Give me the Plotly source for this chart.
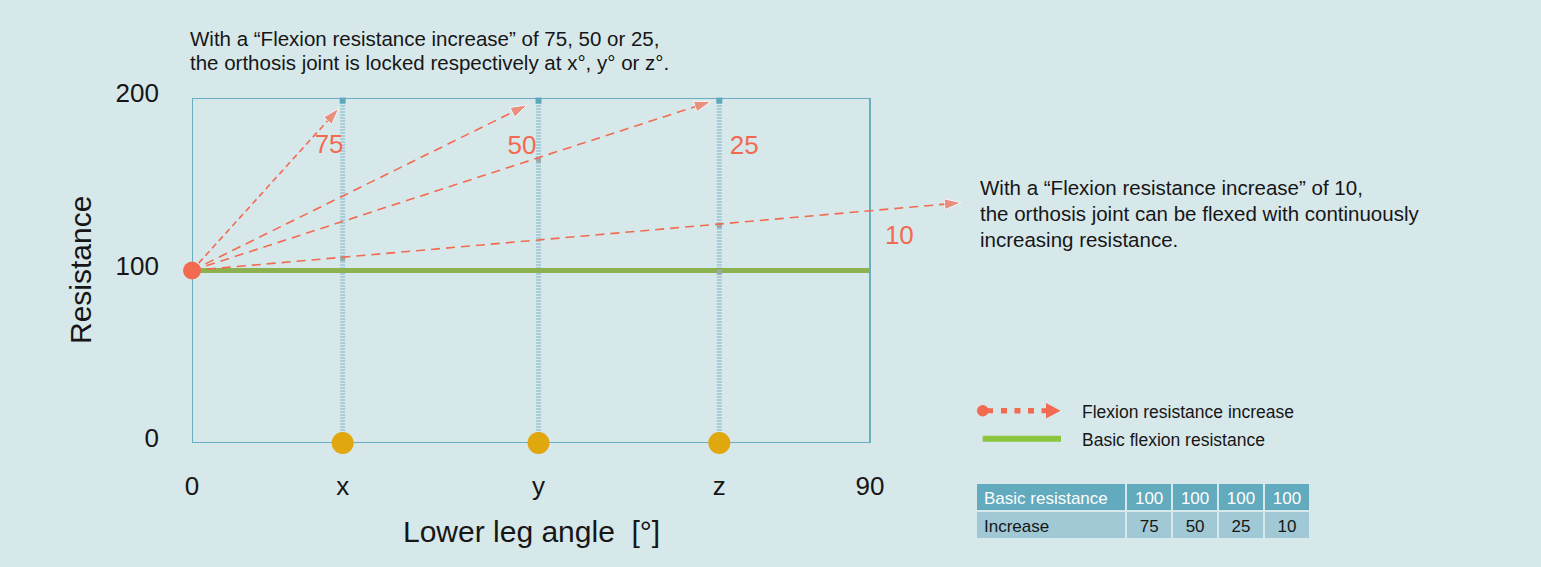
import plotly.graph_objects as go

# ---------------- data ----------------
angle_tick_vals = [0, 20, 46, 70, 90]
angle_tick_text = ["0", "x", "y", "z", "90"]
resistance_ticks = [0, 100, 200]
lock_angles = [20, 46, 70]          # x, y, z
basic_resistance = 100
increase_values = [75, 50, 25, 10]
arrow_tip_x = [19.5, 44.5, 68.9, 102.1]
arrow_tip_y = [194, 196, 198, 139.3]
label_x = [18.2, 43.8, 73.3, 93.9]
label_y = [171.6, 171.3, 171.1, 119.4]
cross_x = [20, 46, 70, 70]
cross_y = [107, 164, 126, 99]
table_header = ["Basic resistance", "100", "100", "100", "100"]
table_row = ["Increase", "75", "50", "25", "10"]

# ---------------- style ----------------
W, H = 1541, 567
BG = "#d7e8eb"
FRAME = "#6aaec1"
CORAL = "#f26a50"
GREEN = "#8cb150"
GREEN_LEG = "#8cc63e"
GOLD = "#e0a70f"
STRIPE = "#a9cdd8"
TEXT = "#161616"
FONT = "Liberation Sans, Arial, sans-serif"

def fx(px):
    return px / W

def fy(py):
    return 1 - py / H

PL, PR, PT, PB = 192, 965, 98, 443
x_max = 90 * (PR - PL) / (870 - PL)

fig = go.Figure()

# vertical striped lock lines
for a in lock_angles:
    fig.add_trace(go.Scatter(x=[a, a], y=[0, 200], mode="lines",
                             line=dict(color=STRIPE, width=5, dash="2px,1px"),
                             hoverinfo="skip", showlegend=False))
fig.add_trace(go.Scatter(x=lock_angles, y=[198.5] * len(lock_angles), mode="markers",
                         marker=dict(symbol="square", size=6, color="#5ea8bb"),
                         cliponaxis=False, hoverinfo="skip", showlegend=False))

# basic resistance line
fig.add_trace(go.Scatter(x=[0, 90], y=[basic_resistance, basic_resistance], mode="lines",
                         line=dict(color=GREEN, width=5), hoverinfo="skip", showlegend=False))

# small grey marks at crossings
fig.add_trace(go.Scatter(x=cross_x, y=cross_y, mode="markers",
                         marker=dict(symbol="square", size=5, color="#9aa9ad"),
                         hoverinfo="skip", showlegend=False))

# increase arrows
dashes = ["6px,4px", "9px,6px", "9px,6px", "9px,6px"]
for tx, ty, d in zip(arrow_tip_x, arrow_tip_y, dashes):
    fig.add_trace(go.Scatter(x=[0, tx], y=[basic_resistance, ty], mode="lines+markers",
                             line=dict(color=CORAL, width=1.6, dash=d),
                             marker=dict(symbol="arrow", size=[0, 17.5], color=CORAL,
                                         angleref="previous"),
                             cliponaxis=False, hoverinfo="skip", showlegend=False))

# increase labels
fig.add_trace(go.Scatter(x=label_x, y=label_y, mode="text",
                         text=[str(v) for v in increase_values],
                         textfont=dict(size=26, color=CORAL, family=FONT),
                         cliponaxis=False, hoverinfo="skip", showlegend=False))

# start dot
fig.add_trace(go.Scatter(x=[0], y=[basic_resistance], mode="markers",
                         marker=dict(size=18, color=CORAL),
                         cliponaxis=False, hoverinfo="skip", showlegend=False))

# lock angle dots
fig.add_trace(go.Scatter(x=lock_angles, y=[0] * len(lock_angles), mode="markers",
                         marker=dict(size=22, color=GOLD),
                         cliponaxis=False, hoverinfo="skip", showlegend=False))

# table
fig.add_trace(go.Table(
    domain=dict(x=[fx(976), fx(1310)], y=[fy(543), fy(483)]),
    columnwidth=[147, 45, 45, 45, 45],
    header=dict(values=table_header, fill_color="#62aabd",
                font=dict(color="white", size=17, family=FONT),
                align=["left", "center", "center", "center", "center"],
                line=dict(color=BG, width=2), height=28),
    cells=dict(values=[[v] for v in table_row], fill_color="#a0c9d5",
               font=dict(color=TEXT, size=17, family=FONT),
               align=["left", "center", "center", "center", "center"],
               line=dict(color=BG, width=2), height=28),
))

shapes = [
    dict(type="rect", xref="x", yref="y", x0=0, x1=90, y0=0, y1=200,
         line=dict(color=FRAME, width=2), layer="below"),
    dict(type="circle", xref="paper", yref="paper",
         x0=fx(977), x1=fx(988.5), y0=fy(416.5), y1=fy(405), fillcolor=CORAL, line_width=0),
    dict(type="line", xref="paper", yref="paper", x0=fx(984), x1=fx(993), y0=fy(410.7), y1=fy(410.7),
         line=dict(color=CORAL, width=5)),
    dict(type="line", xref="paper", yref="paper", x0=fx(1001), x1=fx(1034), y0=fy(410.7), y1=fy(410.7),
         line=dict(color=CORAL, width=5.5, dash="6px,7.5px")),
    dict(type="line", xref="paper", yref="paper", x0=fx(1041.5), x1=fx(1050), y0=fy(410.7), y1=fy(410.7),
         line=dict(color=CORAL, width=5)),
    dict(type="path", xref="paper", yref="paper",
         path=f"M {fx(1046)} {fy(403)} L {fx(1060.5)} {fy(410.7)} L {fx(1046)} {fy(418.5)} Z",
         fillcolor=CORAL, line_width=0),
    dict(type="line", xref="paper", yref="paper", x0=fx(982.7), x1=fx(1061), y0=fy(438.7), y1=fy(438.7),
         line=dict(color=GREEN_LEG, width=6)),
]

annotations = [
    dict(text="With a “Flexion resistance increase” of 75, 50 or 25,", x=fx(188), y=fy(38.3)),
    dict(text="the orthosis joint is locked respectively at x°, y° or z°.", x=fx(188), y=fy(62.7)),
    dict(text="With a “Flexion resistance increase” of 10,", x=fx(977.5), y=fy(187.7)),
    dict(text="the orthosis joint can be flexed with continuously", x=fx(977.5), y=fy(213.3)),
    dict(text="increasing resistance.", x=fx(977.5), y=fy(239)),
]
for a in annotations:
    a.update(xref="paper", yref="paper", xanchor="left", yanchor="middle", showarrow=False,
             font=dict(size=20.5, color=TEXT, family=FONT))
annotations += [
    dict(text="Flexion resistance increase", x=fx(1080), y=fy(411.7), xref="paper", yref="paper",
         xanchor="left", yanchor="middle", showarrow=False, font=dict(size=17.5, color=TEXT, family=FONT)),
    dict(text="Basic flexion resistance", x=fx(1080), y=fy(440), xref="paper", yref="paper",
         xanchor="left", yanchor="middle", showarrow=False, font=dict(size=17.5, color=TEXT, family=FONT)),
    dict(text="Lower leg angle\u00a0 [°]", x=45, y=0, xref="x", yref="y", yshift=-88,
         xanchor="center", yanchor="middle", showarrow=False,
         font=dict(size=30, color=TEXT, family=FONT)),
    dict(text="Resistance", x=0, y=100, xref="x", yref="y", xshift=-111.5, textangle=-90,
         xanchor="center", yanchor="middle", showarrow=False,
         font=dict(size=30, color=TEXT, family=FONT)),
]

fig.update_layout(
    width=W, height=H,
    autosize=False,
    margin=dict(l=0, r=0, t=0, b=0, pad=0, autoexpand=False),
    paper_bgcolor=BG, plot_bgcolor=BG,
    showlegend=False,
    font=dict(family=FONT, color=TEXT),
    shapes=shapes, annotations=annotations,
    xaxis=dict(domain=[fx(PL), fx(PR)], range=[0, x_max], showgrid=False, zeroline=False,
               showline=False, ticks="", tickvals=angle_tick_vals, ticktext=angle_tick_text,
               tickfont=dict(size=26, color=TEXT, family=FONT), ticklabelstandoff=25,
               automargin=False, fixedrange=True),
    yaxis=dict(domain=[fy(PB), fy(PT)], range=[0, 200], showgrid=False, zeroline=False,
               showline=False, ticks="", tickvals=resistance_ticks,
               ticktext=[str(v) for v in resistance_ticks],
               tickfont=dict(size=26, color=TEXT, family=FONT), ticklabelstandoff=32,
               ticklabelshift=-5, automargin=False, fixedrange=True),
)

post = (
    "document.body.style.margin='0px';"
    "document.body.style.overflow='hidden';"
)

fig.write_html("out.html", post_script=post, config={"displayModeBar": False})
